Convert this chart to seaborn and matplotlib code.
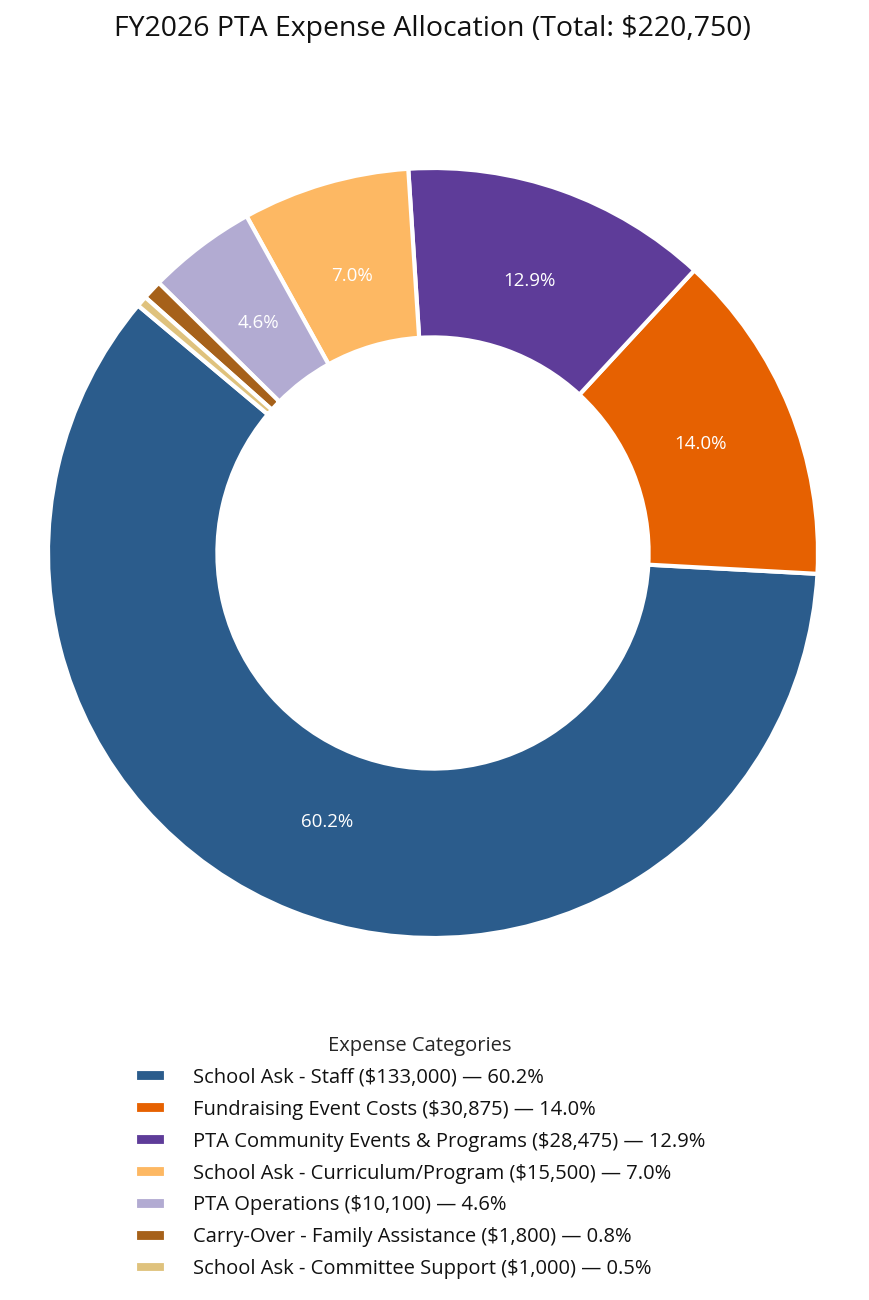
import matplotlib
matplotlib.use("Agg")
import matplotlib.pyplot as plt
import seaborn as sns

categories = [
    "School Ask - Staff",
    "Fundraising Event Costs",
    "PTA Community Events & Programs",
    "School Ask - Curriculum/Program",
    "PTA Operations",
    "Carry-Over - Family Assistance",
    "School Ask - Committee Support",
]
amounts = [133000, 30875, 28475, 15500, 10100, 1800, 1000]
colors = ["#2b5c8c", "#e66101", "#5e3c99", "#fdb863", "#b2abd2", "#a6611a", "#dfc27d"]

sns.set_theme(style="white")
plt.rcParams["font.family"] = ["Open Sans", "DejaVu Sans"]

total = sum(amounts)
fig = plt.figure(figsize=(8.7, 13), dpi=100)
ax = fig.add_axes([48 / 870, 362 / 1300, 770 / 870, 770 / 1300])

def fmt(p):
    return f"{p:.1f}%" if p >= 2 else ""

wedges, texts, autotexts = ax.pie(
    amounts,
    colors=colors,
    startangle=140,
    counterclock=True,
    autopct=fmt,
    pctdistance=0.75,
    wedgeprops=dict(width=0.44, edgecolor="white", linewidth=3),
    textprops=dict(color="white", fontsize=13.5),
)
ax.set_xlim(-1, 1)
ax.set_ylim(-1, 1)
ax.set_aspect("auto")
ax.axis("off")
for w in wedges:
    w.set_clip_on(False)

labels = [f"{c} (${a:,.0f}) \u2014 {a / total * 100:.1f}%" for c, a in zip(categories, amounts)]
fig.text(0.497, 0.978, f"FY2026 PTA Expense Allocation (Total: ${total:,.0f})",
         ha="center", va="center", fontsize=20.5, color="#111111")

leg = fig.legend(wedges, labels, title="Expense Categories", loc="upper center",
                 bbox_to_anchor=(0.483, 0.217), frameon=False, fontsize=14.5,
                 title_fontsize=14.5, handlelength=1.5, handleheight=0.6,
                 handletextpad=1.35, labelspacing=0.59)
for t in leg.get_texts():
    t.set_color("#111111")

fig.savefig("out.png", dpi=100)
